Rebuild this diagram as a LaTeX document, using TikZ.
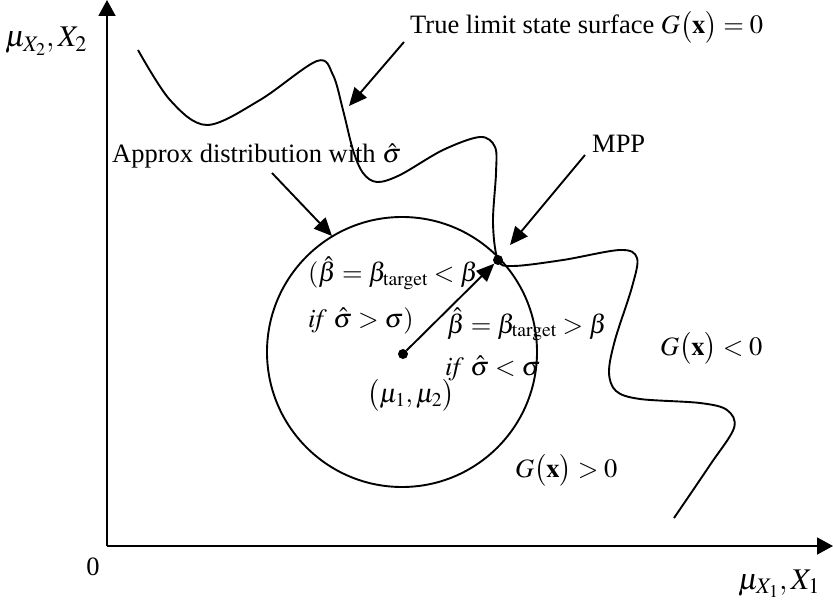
\documentclass[tikz,border=0pt]{standalone}
\usepackage{mathptmx}
\usepackage[no-math]{fontspec}
\setmainfont{Liberation Serif}
\usetikzlibrary{arrows.meta}
\begin{document}
\begin{tikzpicture}[x=1pt,y=-1pt,
  line/.style={line width=1.9pt},
  bigtip/.style={-{Triangle[length=16pt,width=17pt]}},
  pointer/.style={line, -{Triangle[length=18pt,width=16pt]}},
  lbl/.style={font=\fontsize{26.5}{30}\selectfont, inner sep=0pt},
  axl/.style={font=\fontsize{30}{36}\selectfont, inner sep=0pt},
  dot/.style={circle, fill, minimum size=10pt, inner sep=0pt}]
\useasboundingbox (0,0) rectangle (833,604);
% axes
\coordinate (O) at (107,546);
\coordinate (Ytop) at (107,0);
\coordinate (Xend) at (833,546);
\draw[line, bigtip] (O) -- (Ytop);
\draw[line, bigtip] (O) -- (Xend);
% circle
\node[draw, circle, line, minimum size=270pt, inner sep=0pt] (C) at (402,352) {};
% limit state curve
\draw[line] plot[smooth, tension=0.55] coordinates {
 (138,50) (170,100) (207,125) (260,100) (317,61) (333,75) (343,110) (353,150)
 (363,173) (377,182) (400,175) (443,150) (480,137) (495,147) (496,173) (493,223)
 (498,260) (513,266) (563,260) (620,250) (637,258) (632,287) (615,340) (609,372)
 (616,391) (640,399) (700,403) (727,410) (734,428) (710,465) (674,518)};
% points
\node[dot] (c0) at (403,354) {};
\node[dot] (mpp) at (498,260) {};
\draw[line, -{Triangle[length=18pt,width=15pt]}] (c0) -- (mpp);
% pointer arrows
\coordinate (t1s) at (404,42); \coordinate (t1e) at (349,106);
\coordinate (a1s) at (272,173); \coordinate (a1e) at (332,236);
\coordinate (m1s) at (585,155); \coordinate (m1e) at (510,245);
\draw[pointer] (t1s) -- (t1e);
\draw[pointer] (a1s) -- (a1e);
\draw[pointer] (m1s) -- (m1e);
% labels
\node[lbl, anchor=base west] (tls) at (410,34) {True limit state surface $G\bigl(\mathbf{x}\bigr)=0$};
\node[lbl, anchor=base west] (apx) at (112,163) {Approx distribution with $\hat\sigma$};
\node[lbl, anchor=base west] (mpplbl) at (592,153) {MPP};
\node[lbl, anchor=base west] (b1) at (308,282) {$(\hat\beta=\beta_{\mathrm{target}}<\beta$};
\node[lbl, anchor=base west] (b2) at (308,327) {$\mathit{if}\ \hat\sigma>\sigma)$};
\node[lbl, anchor=base west] (b3) at (447,333) {$\hat\beta=\beta_{\mathrm{target}}>\beta$};
\node[lbl, anchor=base west] (b4) at (445,375) {$\mathit{if}\ \hat\sigma<\sigma$};
\node[lbl, anchor=base west] (mu) at (367,402) {$\bigl(\mu_1,\mu_2\bigr)$};
\node[lbl, anchor=base west] (gneg) at (660,355) {$G\bigl(\mathbf{x}\bigr)<0$};
\node[lbl, anchor=base west] (gpos) at (515,477) {$G\bigl(\mathbf{x}\bigr)>0$};
\node[axl, anchor=base west] (ylab) at (5,47) {$\mu_{X_2},X_2$};
\node[axl, anchor=base west] (xlab) at (738,589) {$\mu_{X_1},X_1$};
\node[lbl] (zero) at (93,567) {0};
\end{tikzpicture}
\end{document}
